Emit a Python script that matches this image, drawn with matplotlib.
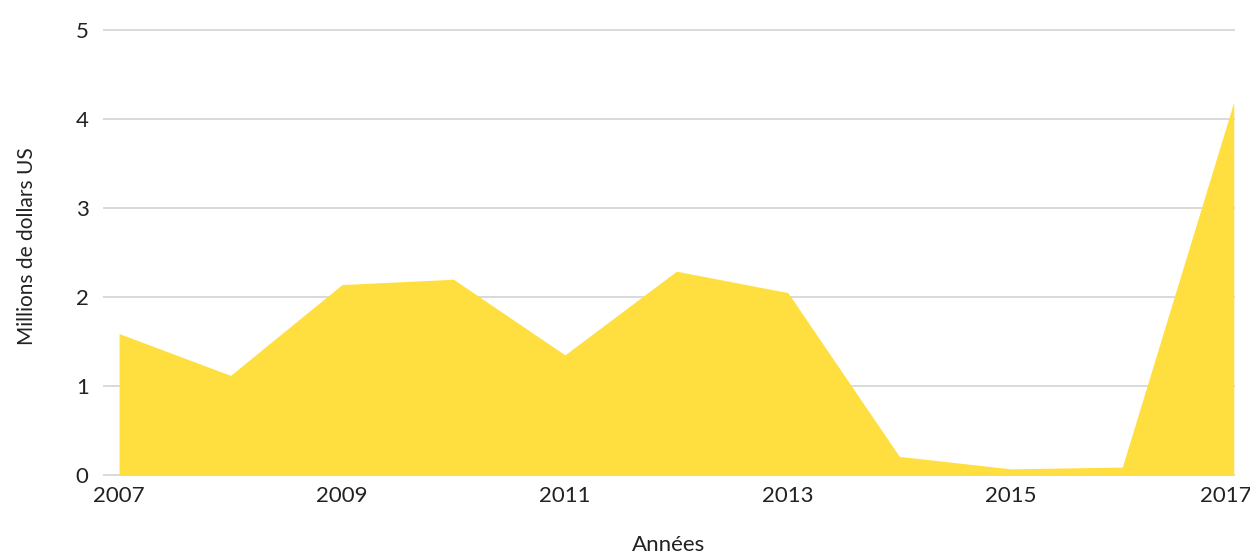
import matplotlib
matplotlib.use("Agg")
import matplotlib.pyplot as plt
from matplotlib.transforms import ScaledTranslation

years = [2007, 2008, 2009, 2010, 2011, 2012, 2013, 2014, 2015, 2016, 2017]
values = [1.59, 1.12, 2.14, 2.20, 1.35, 2.29, 2.05, 0.21, 0.07, 0.09, 4.19]
xticks = [2007, 2009, 2011, 2013, 2015, 2017]
yticks = [0, 1, 2, 3, 4, 5]

plt.rcParams['font.family'] = ['Lato', 'DejaVu Sans']

fig = plt.figure(figsize=(12.5, 5.55), dpi=100)
ax = fig.add_axes([0.0832, 0.144, 0.9038, 0.802])

ax.fill_between(years, values, 0, color='#FFDF3F', linewidth=0, zorder=2)

ax.set_xlim(2006.865, 2017.0)
ax.set_ylim(0, 5)
ax.set_xticks(xticks)
ax.set_yticks(yticks)
ax.tick_params(axis='both', length=0, labelsize=16, colors='#222222')
ax.tick_params(axis='y', pad=11)
ax.tick_params(axis='x', pad=8)

# last label sits a bit left so it stays inside the picture
last = ax.get_xticklabels()[-1]
last.set_transform(last.get_transform() + ScaledTranslation(-8/100, 0, fig.dpi_scale_trans))

for y in yticks:
    ax.axhline(y, color='#d9d9d9', linewidth=1.4, zorder=1, clip_on=False)

for s in ax.spines.values():
    s.set_visible(False)

ax.set_ylabel('Millions de dollars US', fontsize=15, color='#222222', labelpad=34)
ax.yaxis.set_label_coords(-0.0595, 0.515)
ax.set_xlabel('Années', fontsize=16, color='#222222', labelpad=21)

fig.savefig('out.png', dpi=100)
